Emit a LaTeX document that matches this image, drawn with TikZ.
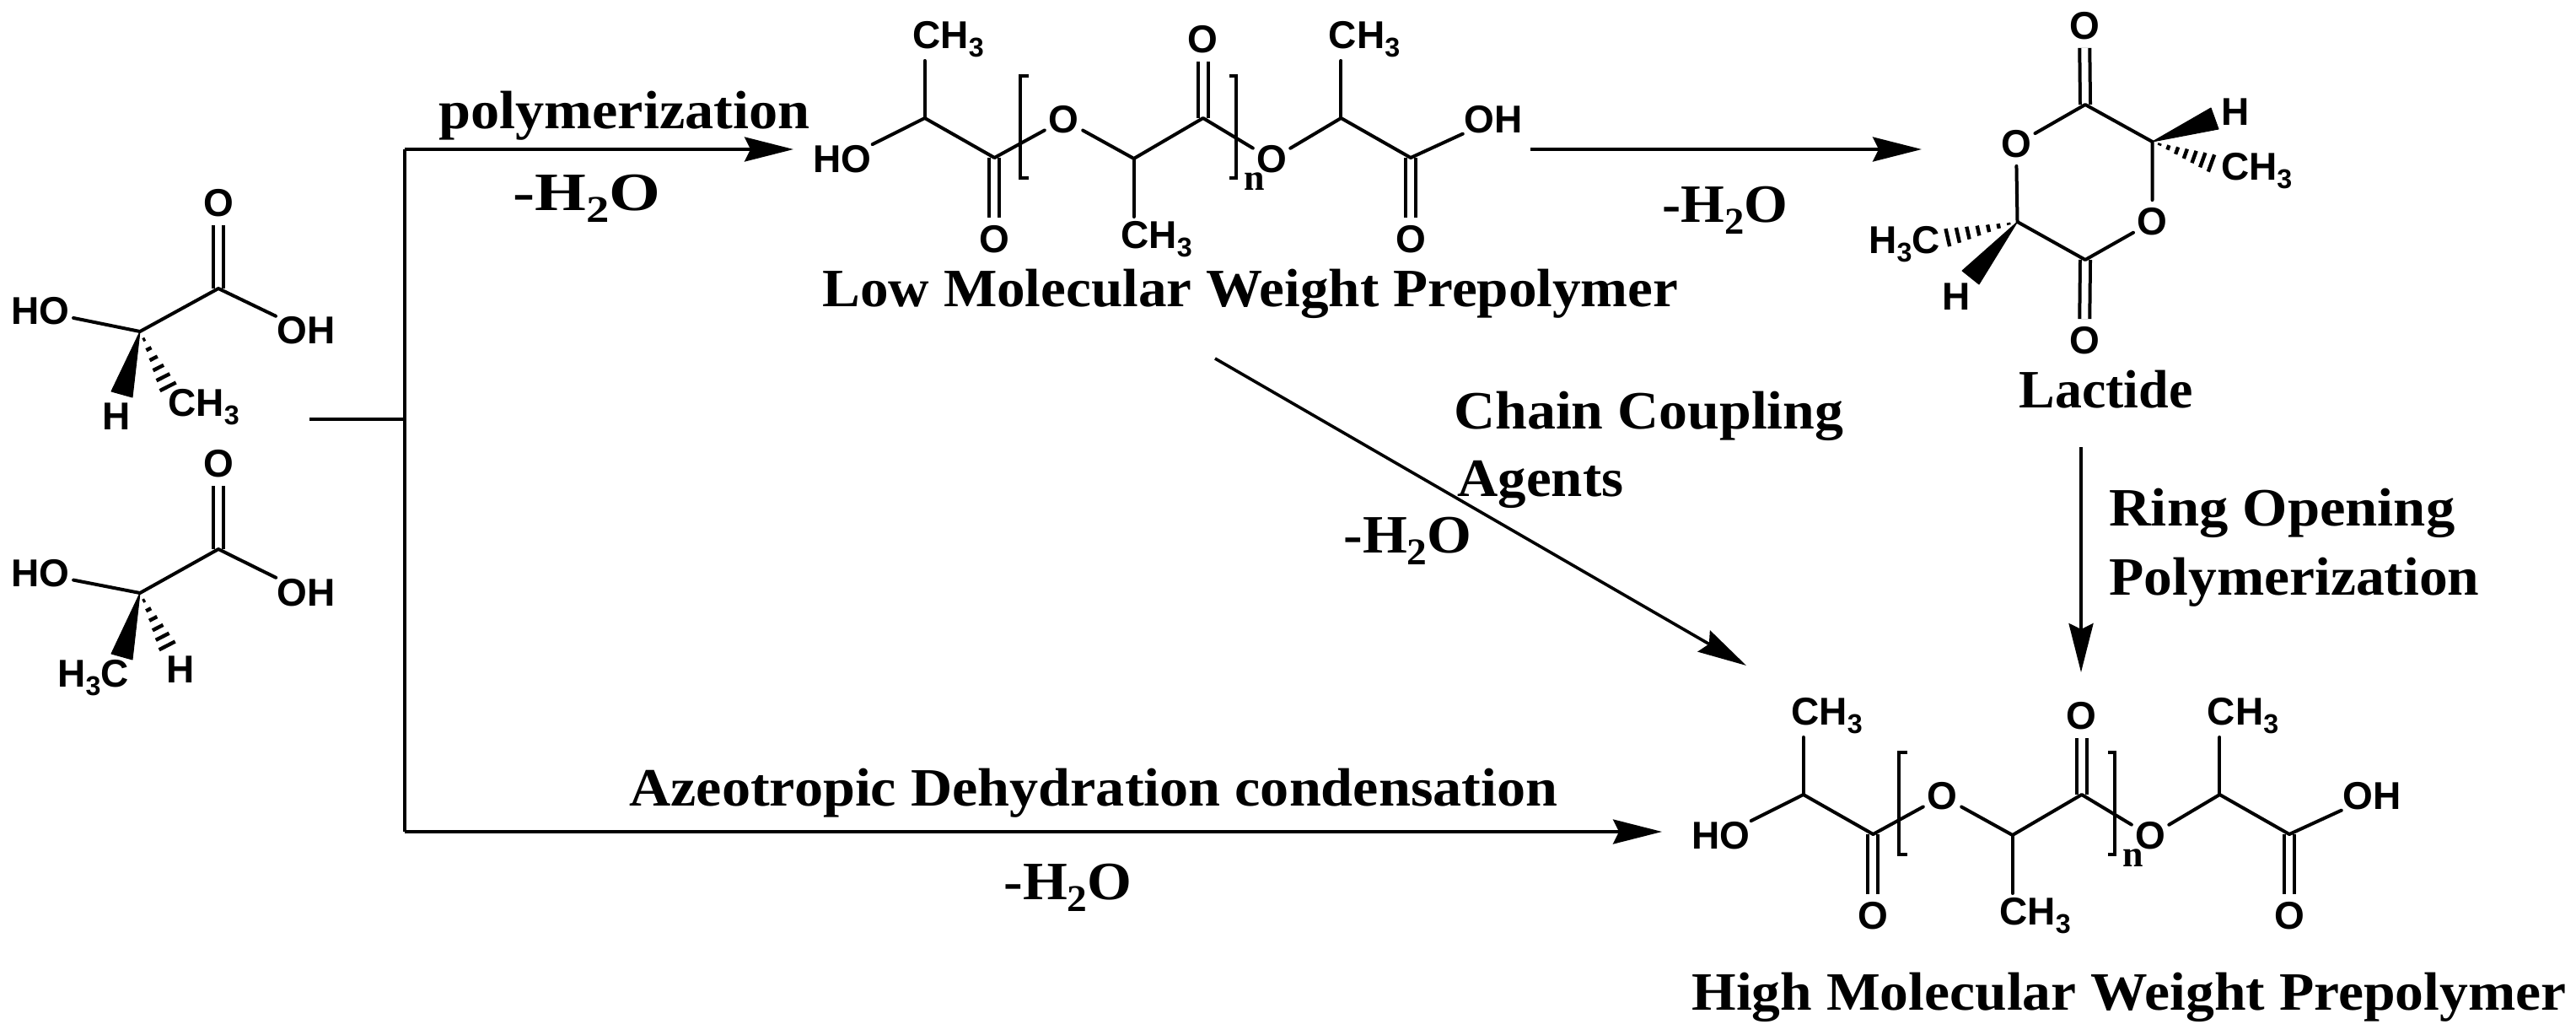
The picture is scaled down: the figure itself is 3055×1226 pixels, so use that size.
\documentclass[tikz,border=0pt]{standalone}
\usepackage{fontspec}
\setmainfont{Liberation Serif}
\newfontfamily\chemfont{Liberation Sans}
\usetikzlibrary{arrows.meta,calc}
\newcommand\dn[1]{\raisebox{-.22em}{\scalebox{.7}{#1}}}
\newcommand\fitw[2]{\sbox0{#2}\pgfmathsetmacro\fitr{#1/2/\the\wd0}\scalebox{\fitr}[1]{\usebox0}}
\tikzset{
  bond/.style={line width=2pt,line cap=round,line join=round},
  dbond/.style={line width=2pt,double,double distance=4pt},
  flow/.style={line width=1.8pt},
  head/.style={flow,-{Stealth[length=29pt,width=14.5pt,inset=3.5pt]}},
  atom/.style={circle,inner sep=0pt,minimum size=25.5pt,font=\chemfont\bfseries\fontsize{23}{23}\selectfont},
  atomw/.style={atom,minimum size=39.5pt},
  grp/.style={inner sep=0pt,font=\chemfont\bfseries\fontsize{23}{23}\selectfont},
  lab/.style={inner sep=0pt,anchor=base west,font=\bfseries\fontsize{32}{36}\selectfont},
  wedge/.style={fill=black,draw=black,line width=.5pt,line join=round},
}
% hashed wedge: #1 apex, #2 end centre, #3 number of strokes
\newcommand\hashw[3]{%
  \foreach \k in {1,...,#3}{%
    \pgfmathsetmacro\ff{(\k-.15)/#3}%
    \pgfmathsetmacro\hw{5.5*\ff}%
    \draw[line width=2.2pt]
      ($(#1)!\ff!(#2)!\hw pt!90:(#2)$) -- ($(#1)!\ff!(#2)!\hw pt!-90:(#2)$);
  }%
}
\newcommand\prepoly[3]{%
\begin{scope}[shift={(#2,#3)}]
  \coordinate (#1c1) at (1096.7,140);
  \coordinate (#1c2) at (1179.4,187);
  \coordinate (#1c3) at (1344.7,188);
  \coordinate (#1c4) at (1426.8,140);
  \coordinate (#1c5) at (1590.4,140);
  \coordinate (#1c6) at (1673,187);
  \coordinate (#1m1) at (1096.7,72);
  \coordinate (#1m2) at (1344.7,257);
  \coordinate (#1m3) at (1590.4,72);
  \node[atomw] (#1ho) at (999,189) {HO};
  \node[atomw] (#1oh) at (1771,142) {OH};
  \node[atom] (#1o1) at (1179.4,284) {O};
  \node[atom] (#1o2) at (1261.5,142) {O};
  \node[atom] (#1o3) at (1426.8,47) {O};
  \node[atom] (#1o4) at (1508,189) {O};
  \node[atom] (#1o5) at (1673,284) {O};
  \node[grp,anchor=west] (#1g1) at (1082,47) {CH\dn{3}};
  \node[grp,anchor=west] (#1g2) at (1329,284) {CH\dn{3}};
  \node[grp,anchor=west] (#1g3) at (1575.5,47) {CH\dn{3}};
  \node[inner sep=0pt,anchor=base,font=\bfseries\fontsize{22}{22}\selectfont] (#1n) at (1488,225) {n};
  \draw[dbond] (#1c2) -- (#1o1);
  \draw[dbond] (#1c4) -- (#1o3);
  \draw[dbond] (#1c6) -- (#1o5);
  \draw[bond] (#1ho) -- (#1c1) -- (#1c2) -- (#1o2) -- (#1c3) -- (#1c4) -- (#1o4) -- (#1c5) -- (#1c6) -- (#1oh);
  \draw[bond] (#1c1) -- (#1m1);
  \draw[bond] (#1c3) -- (#1m2);
  \draw[bond] (#1c5) -- (#1m3);
  \coordinate (#1b1) at (1220,90);
  \coordinate (#1b2) at (1210,90);
  \coordinate (#1b3) at (1210,211);
  \coordinate (#1b4) at (1220,211);
  \coordinate (#1b5) at (1458,90);
  \coordinate (#1b6) at (1466,90);
  \coordinate (#1b7) at (1466,211);
  \coordinate (#1b8) at (1458,211);
  \draw[line width=2pt] (#1b1) -- (#1b2) -- (#1b3) -- (#1b4);
  \draw[line width=2pt] (#1b5) -- (#1b6) -- (#1b7) -- (#1b8);
\end{scope}}
\begin{document}
\begin{tikzpicture}[x=.5pt,y=-.5pt]
\path[use as bounding box,fill=white] (0,0) rectangle (3055,1226);

% lactic acid, upper
\coordinate (ac) at (166,393);
\coordinate (ak) at (259,342);
\coordinate (aw1) at (132,464);
\coordinate (aw2) at (157,471);
\coordinate (ah) at (200,460);
\node[atomw] (aho) at (48,369) {HO};
\node[atomw] (aoh) at (363,392) {OH};
\node[atom] (ao) at (259,241) {O};
\node[grp] (aH) at (138,494) {H};
\node[grp,anchor=west] (ame) at (199,483) {CH\dn{3}};
\draw[dbond] (ak) -- (ao);
\draw[bond] (aho) -- (ac) -- (ak) -- (aoh);
\fill[wedge] (ac) -- (aw1) -- (aw2) -- cycle;
\hashw{ac}{ah}{6}

% lactic acid, lower
\coordinate (bc) at (166,703);
\coordinate (bk) at (259,651);
\coordinate (bw1) at (132,775);
\coordinate (bw2) at (157,782);
\coordinate (bh) at (199,767);
\node[atomw] (bho) at (48,680) {HO};
\node[atomw] (boh) at (363,702.5) {OH};
\node[atom] (bo) at (259,550) {O};
\node[grp] (bH) at (214,794) {H};
\node[grp,anchor=west] (bme) at (68,804) {H\dn{3}C};
\draw[dbond] (bk) -- (bo);
\draw[bond] (bho) -- (bc) -- (bk) -- (boh);
\fill[wedge] (bc) -- (bw1) -- (bw2) -- cycle;
\hashw{bc}{bh}{6}

% prepolymers
\prepoly{p}{0}{0}
\prepoly{q}{1042}{802}

% lactide
\coordinate (lt) at (2473,124);
\coordinate (lr) at (2552.5,168);
\coordinate (lb) at (2473,308);
\coordinate (ll) at (2392.5,263);
\coordinate (lw1) at (2622,128);
\coordinate (lw2) at (2631,153);
\coordinate (lw3) at (2327,321);
\coordinate (lw4) at (2347,337);
\coordinate (lh1) at (2624,194);
\coordinate (lh2) at (2308,282);
\node[atom] (lo1) at (2472,31) {O};
\node[atom] (lo2) at (2552.5,263) {O};
\node[atom] (lo3) at (2472,404) {O};
\node[atom] (lo4) at (2391,171) {O};
\node[grp] (lH1) at (2651,133) {H};
\node[grp] (lH2) at (2320,352) {H};
\node[grp,anchor=west] (lme1) at (2633.6,203) {CH\dn{3}};
\node[grp,anchor=west] (lme2) at (2216,290) {H\dn{3}C};
\draw[dbond] (lt) -- (lo1);
\draw[dbond] (lb) -- (lo3);
\draw[bond] (lo4) -- (lt) -- (lr) -- (lo2) -- (lb) -- (ll) -- (lo4);
\fill[wedge] (lr) -- (lw1) -- (lw2) -- cycle;
\fill[wedge] (ll) -- (lw3) -- (lw4) -- cycle;
\hashw{lr}{lh1}{7}
\hashw{ll}{lh2}{7}

% flow lines
\coordinate (v1) at (480,177);
\coordinate (v2) at (480,986);
\coordinate (f1) at (367,497);
\coordinate (f2) at (478,497);
\coordinate (t1) at (941,177);
\coordinate (t2) at (1815,177);
\coordinate (t3) at (2279,177);
\coordinate (d1) at (1441,425);
\coordinate (d2) at (2071,789);
\coordinate (r1) at (2468,530);
\coordinate (r2) at (2468,797);
\coordinate (e1) at (1971,986);
\draw[flow] (f1) -- (f2);
\draw[flow] (v1) -- (v2);
\draw[head] (v1) -- (t1);
\draw[head] (v2) -- (e1);
\draw[head] (t2) -- (t3);
\draw[head] (d1) -- (d2);
\draw[head] (r1) -- (r2);

% labels
\node[lab] (l1) at (520,152) {\fitw{440}{polymerization}};
\node[lab] (l2) at (608,249) {\fitw{175}{-H\dn{2}O}};
\node[lab] (l3) at (975,363) {\fitw{1015}{Low Molecular Weight Prepolymer}};
\node[lab] (l4) at (1971,263) {\fitw{149}{-H\dn{2}O}};
\node[lab] (l5) at (2394,483) {\fitw{206}{Lactide}};
\node[lab] (l6) at (1724,508) {\fitw{462}{Chain Coupling}};
\node[lab] (l7) at (1728,588) {\fitw{197}{Agents}};
\node[lab] (l8) at (1593,655) {\fitw{152}{-H\dn{2}O}};
\node[lab] (l9) at (2501,623) {\fitw{410}{Ring Opening}};
\node[lab] (l10) at (2501,705) {\fitw{439}{Polymerization}};
\node[lab] (l11) at (746,955) {\fitw{1101}{Azeotropic Dehydration condensation}};
\node[lab] (l12) at (1190,1066) {\fitw{152}{-H\dn{2}O}};
\node[lab] (l13) at (2006,1197) {\fitw{1037}{High Molecular Weight Prepolymer}};
\end{tikzpicture}
\end{document}
